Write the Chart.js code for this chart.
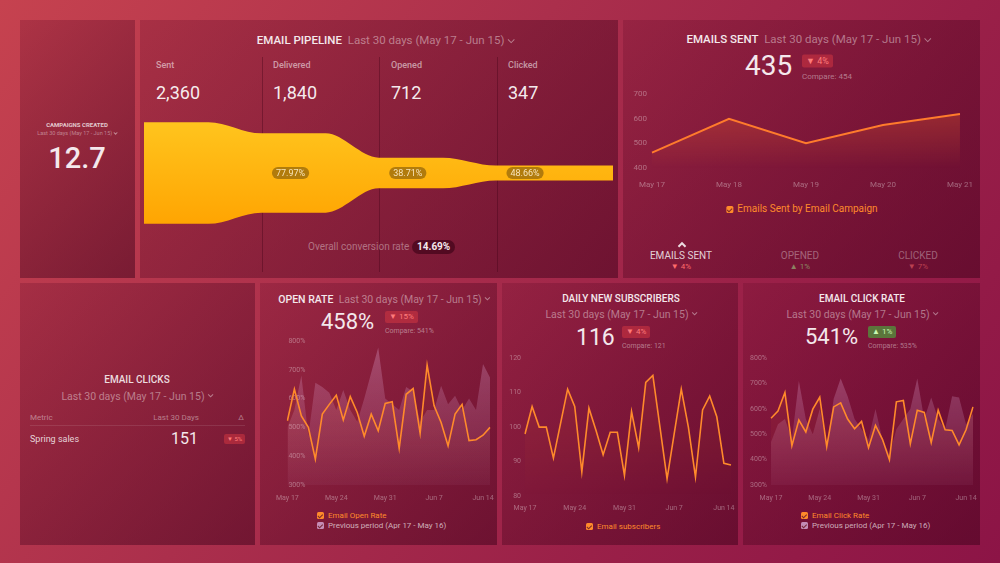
<!DOCTYPE html>
<html>
<head>
<meta charset="utf-8">
<script src="https://cdn.jsdelivr.net/npm/chart.js@4.4.1/dist/chart.umd.min.js"></script>
<style>
  body { margin:0; width:1000px; height:563px; overflow:hidden; position:relative;
    font-family: Roboto, "Noto Sans", sans-serif; color:#f4e8ec;
    background: linear-gradient(125deg, #c6424f 0%, #ab2f4c 40%, #9a2048 70%, #8c1446 100%); }
  .panel { position:absolute; background: linear-gradient(135deg, rgba(100,10,40,0.25), rgba(60,0,25,0.5)); }
  .t { position:absolute; white-space:nowrap; line-height:1; }
  .cc { transform: translate(-50%,-50%); }
  .lc { transform: translateY(-50%); }
  .rc { transform: translate(-100%,-50%); }
  .sub { color: rgba(255,255,255,0.42); }
  .chev { display:inline-block; width:.32em; height:.32em; border-right:.12em solid currentColor; border-bottom:.12em solid currentColor;
    transform: rotate(45deg); margin-left:.35em; position:relative; top:-.22em; }
  .chevup { position:absolute; width:4px; height:4px; border-left:2px solid rgba(255,255,255,.85); border-top:2px solid rgba(255,255,255,.85);
    transform: rotate(45deg); }
  .bred { background: rgba(215,55,65,0.5); color:#ff7b7b; padding:2px 4px; border-radius:2px; }
  .bgreen { background: rgba(80,150,60,0.75); color:#c8f7b0; padding:2px 4px; border-radius:2px; }
  .chk { display:inline-block; position:relative; width:7px; height:7px; border-radius:1.5px; margin-right:4px; vertical-align:-1px; }
  .chk::after { content:""; position:absolute; left:2.4px; top:0.6px; width:1.5px; height:3.6px;
    border-right:1.2px solid rgba(110,30,40,.9); border-bottom:1.2px solid rgba(110,30,40,.9); transform: rotate(45deg); }
  .sep { position:absolute; width:1px; background: rgba(60,0,20,0.35); }
  .cw { position:absolute; }
</style>
</head>
<body>
<div class="panel" style="left:20px;top:20px;width:115px;height:258px"></div>
<div class="panel" style="left:140px;top:20px;width:478px;height:258px"></div>
<div class="panel" style="left:623px;top:20px;width:357px;height:258px"></div>
<div class="panel" style="left:20px;top:283px;width:235px;height:262px"></div>
<div class="panel" style="left:260px;top:283px;width:237px;height:262px"></div>
<div class="panel" style="left:502px;top:283px;width:236px;height:262px"></div>
<div class="panel" style="left:743px;top:283px;width:237px;height:262px"></div>

<!-- campaigns created -->
<div class="t cc" style="left:77px;top:125px;font-size:6px;font-weight:700;color:rgba(255,255,255,.75)">CAMPAIGNS CREATED</div>
<div class="t cc sub" style="left:77px;top:134px;font-size:5.5px">Last 30 days (May 17 - Jun 15)<i class="chev"></i></div>
<div class="t cc" style="left:77px;top:158px;font-size:29px;font-weight:500">12.7</div>

<!-- email pipeline -->
<div class="t cc" style="left:385px;top:41px;font-size:11.5px"><span style="font-weight:500">EMAIL PIPELINE</span> <span class="sub">&nbsp;Last 30 days (May 17 - Jun 15)<i class="chev"></i></span></div>
<div class="sep" style="left:262px;top:57px;height:215px"></div>
<div class="sep" style="left:379px;top:57px;height:215px"></div>
<div class="sep" style="left:497px;top:57px;height:215px"></div>
<div id="stageNames"></div>
<div class="cw" style="left:144px;top:117px;width:469px;height:112px"><canvas id="funnel"></canvas></div>
<div class="t lc" style="left:308px;top:247px;font-size:10px;color:rgba(255,255,255,.38)">Overall conversion rate</div>
<div class="t lc" style="left:412px;top:247px;font-size:10px;font-weight:700;background:rgba(55,0,20,.6);padding:2px 5px;border-radius:7px">14.69%</div>

<!-- emails sent -->
<div class="t cc" style="left:808px;top:40px;font-size:11.5px"><span style="font-weight:500">EMAILS SENT</span> <span class="sub">&nbsp;Last 30 days (May 17 - Jun 15)<i class="chev"></i></span></div>
<div class="t lc" style="left:745px;top:66px;font-size:28px">435</div>
<div class="t lc bred" style="left:802px;top:61px;font-size:9px">▼ 4%</div>
<div class="t lc sub" style="left:802px;top:77px;font-size:8px">Compare: 454</div>
<div class="cw" style="left:625px;top:84px;width:360px;height:110px"><canvas id="sent"></canvas></div>
<div class="t cc" style="left:802px;top:209px;font-size:10px;color:#ff8a2b"><span class="chk" style="background:#ff8a2b"></span>Emails Sent by Email Campaign</div>
<i class="chevup" style="left:679px;top:243px"></i>
<div class="t cc" style="left:681px;top:256px;font-size:10px;color:rgba(255,255,255,.8)">EMAILS SENT</div>
<div class="t cc" style="left:681px;top:267px;font-size:8px;color:#ff6b6b">▼ 4%</div>
<div class="t cc" style="left:800px;top:256px;font-size:10px;color:rgba(255,255,255,.35)">OPENED</div>
<div class="t cc" style="left:800px;top:267px;font-size:8px;color:rgba(160,230,140,.55)">▲ 1%</div>
<div class="t cc" style="left:918px;top:256px;font-size:10px;color:rgba(255,255,255,.35)">CLICKED</div>
<div class="t cc" style="left:918px;top:267px;font-size:8px;color:rgba(255,110,110,.55)">▼ 7%</div>

<!-- email clicks -->
<div class="t cc" style="left:137px;top:380px;font-size:10px;font-weight:500;color:rgba(255,255,255,.85)">EMAIL CLICKS</div>
<div class="t cc sub" style="left:137px;top:397px;font-size:10.5px">Last 30 days (May 17 - Jun 15)<i class="chev"></i></div>
<div class="t lc sub" style="left:30px;top:418px;font-size:8px">Metric</div>
<div class="t rc sub" style="left:199px;top:418px;font-size:8px">Last 30 Days</div>
<div class="t cc sub" style="left:241px;top:418px;font-size:8px">Δ</div>
<div style="position:absolute;left:30px;top:425px;width:215px;height:1px;background:rgba(255,255,255,.1)"></div>
<div class="t lc" style="left:30px;top:439px;font-size:9px;color:rgba(255,255,255,.8)">Spring sales</div>
<div class="t rc" style="left:198px;top:439px;font-size:16px">151</div>
<div class="t lc bred" style="left:224px;top:439px;font-size:6px;padding:2px 3px">▼ 5%</div>

<!-- open rate -->
<div class="t cc" style="left:384px;top:300px;font-size:10.5px"><span style="font-weight:500">OPEN RATE</span> <span class="sub">&nbsp;Last 30 days (May 17 - Jun 15)<i class="chev"></i></span></div>
<div class="t lc" style="left:321px;top:322px;font-size:22px">458%</div>
<div class="t lc bred" style="left:385px;top:317px;font-size:8px">▼ 15%</div>
<div class="t lc sub" style="left:385px;top:331px;font-size:7px">Compare: 541%</div>
<div class="cw" style="left:267px;top:335px;width:233px;height:172px"><canvas id="openRate"></canvas></div>
<div class="t lc" style="left:317px;top:516px;font-size:8px;color:#ff8a2b"><span class="chk" style="background:#ff8a2b"></span>Email Open Rate</div>
<div class="t lc" style="left:317px;top:526px;font-size:8px;color:rgba(255,255,255,.65)"><span class="chk" style="background:rgba(215,170,215,.8)"></span>Previous period (Apr 17 - May 16)</div>

<!-- daily new subscribers -->
<div class="t cc" style="left:621px;top:299px;font-size:10px;font-weight:500">DAILY NEW SUBSCRIBERS</div>
<div class="t cc sub" style="left:621px;top:315px;font-size:10.5px">Last 30 days (May 17 - Jun 15)<i class="chev"></i></div>
<div class="t lc" style="left:576px;top:337px;font-size:23px">116</div>
<div class="t lc bred" style="left:622px;top:332px;font-size:8px">▼ 4%</div>
<div class="t lc sub" style="left:622px;top:346px;font-size:7px">Compare: 121</div>
<div class="cw" style="left:505px;top:350px;width:234px;height:168px"><canvas id="subs"></canvas></div>
<div class="t lc" style="left:586px;top:527px;font-size:8px;color:#ff8a2b"><span class="chk" style="background:#ff8a2b"></span>Email subscribers</div>

<!-- email click rate -->
<div class="t cc" style="left:862px;top:299px;font-size:10px;font-weight:500">EMAIL CLICK RATE</div>
<div class="t cc sub" style="left:862px;top:315px;font-size:10.5px">Last 30 days (May 17 - Jun 15)<i class="chev"></i></div>
<div class="t lc" style="left:805px;top:337px;font-size:22px">541%</div>
<div class="t lc bgreen" style="left:868px;top:332px;font-size:8px">▲ 1%</div>
<div class="t lc sub" style="left:868px;top:346px;font-size:7px">Compare: 535%</div>
<div class="cw" style="left:747px;top:350px;width:235px;height:157px"><canvas id="clickRate"></canvas></div>
<div class="t lc" style="left:801px;top:516px;font-size:8px;color:#ff8a2b"><span class="chk" style="background:#ff8a2b"></span>Email Click Rate</div>
<div class="t lc" style="left:801px;top:526px;font-size:8px;color:rgba(255,255,255,.65)"><span class="chk" style="background:rgba(215,170,215,.8)"></span>Previous period (Apr 17 - May 16)</div>

<script>
// funnel
const funnelStages = ["Sent", "Delivered", "Opened", "Clicked"];
const funnelValues = [2360, 1840, 712, 347];
const funnelRates = ["77.97%", "38.71%", "48.66%"];

// emails sent, last 5 days
const sentDays = ["May 17", "May 18", "May 19", "May 20", "May 21"];
const sentValues = [462, 599, 500, 574, 618];
const sentTicks = [400, 500, 600, 700];

// 30 day series
const days = ["May 17","May 18","May 19","May 20","May 21","May 22","May 23","May 24","May 25","May 26",
  "May 27","May 28","May 29","May 30","May 31","Jun 1","Jun 2","Jun 3","Jun 4","Jun 5",
  "Jun 6","Jun 7","Jun 8","Jun 9","Jun 10","Jun 11","Jun 12","Jun 13","Jun 14","Jun 15"];
const openRate = [523, 633, 540, 500, 390, 546, 580, 612, 526, 607, 552, 469, 546, 488, 583,
  589, 427, 615, 635, 480, 716, 575, 517, 436, 546, 580, 454, 457, 473, 500];
const openRatePrev = [500, 560, 680, 470, 655, 640, 620, 560, 630, 560, 520, 600, 690, 777, 600,
  580, 560, 640, 625, 520, 560, 560, 645, 580, 610, 560, 600, 560, 720, 673];
const subscribers = [98, 106, 100, 100, 91, 101, 111, 106, 87, 105.5, 99, 92, 98.5, 98.5, 86,
  104.5, 94, 113, 115, 100, 85, 98, 111, 100, 85.5, 105, 109, 103, 89.5, 89];
const subTicks = [80, 90, 100, 110, 120];
const clickRate = [563, 592, 665, 455, 556, 509, 599, 646, 451, 608, 624, 560, 522, 551, 447,
  535, 480, 400, 628, 633, 462, 595, 586, 467, 595, 518, 515, 458, 518, 608];
const clickRatePrev = [470, 540, 560, 480, 710, 560, 500, 600, 450, 640, 720, 650, 560, 520, 480,
  600, 480, 420, 520, 560, 600, 720, 560, 645, 560, 520, 650, 645, 540, 580];
const pctTicks = [300, 400, 500, 600, 700, 800];

const ORANGE = "#ff8a2b";
const TICK = "rgba(255,255,255,0.35)";
Chart.defaults.font.family = "Roboto";
Chart.defaults.animation = false;

// stage names + totals
let names = "";
funnelStages.forEach((s, i) => {
    let x = [156, 273, 391, 508][i];
    names += `<div class="t lc" style="left:${x}px;top:65px;font-size:9px;font-weight:500;color:rgba(255,255,255,.55)">${s}</div>
      <div class="t lc" style="left:${x}px;top:93px;font-size:18px;color:rgba(255,255,255,.93)">${funnelValues[i].toLocaleString("en-US")}</div>`;
});
document.getElementById("stageNames").innerHTML = names;

function vGrad(c, top, bottom) {
    const a = c.chart.chartArea;
    if (!a) return "transparent";
    const g = c.chart.ctx.createLinearGradient(0, a.top, 0, a.bottom);
    g.addColorStop(0, top);
    g.addColorStop(1, bottom);
    return g;
}

// funnel chart
const funnelTop = [], funnelBottom = [];
funnelValues.forEach((v, i) => {
    const xs = i < funnelValues.length - 1 ? [i, i + 0.55] : [i, i + 1];
    xs.forEach(x => {
        funnelTop.push({ x: x, y: v / 2 });
        funnelBottom.push({ x: x, y: -v / 2 });
    });
});

const funnelLabels = {
    id: "funnelLabels",
    afterDatasetsDraw(chart) {
        const { ctx, scales: { x, y } } = chart;
        ctx.save();
        ctx.font = "9px Roboto";
        ctx.textAlign = "center";
        ctx.textBaseline = "middle";
        funnelRates.forEach((r, i) => {
            const cx = x.getPixelForValue(i + 1.25), cy = y.getPixelForValue(0);
            const w = ctx.measureText(r).width + 8, h = 12;
            ctx.fillStyle = "rgba(125,85,10,0.6)";
            ctx.beginPath();
            ctx.roundRect(cx - w / 2, cy - h / 2, w, h, 6);
            ctx.fill();
            ctx.fillStyle = "rgba(255,240,205,0.9)";
            ctx.fillText(r, cx, cy + 0.5);
        });
        ctx.restore();
    }
};

new Chart(document.getElementById("funnel"), {
    type: "line",
    data: {
        datasets: [
            { data: funnelTop, borderColor: "transparent", borderWidth: 0, pointRadius: 0, fill: false, cubicInterpolationMode: "monotone" },
            { data: funnelBottom, borderColor: "transparent", borderWidth: 0, pointRadius: 0, fill: "-1", cubicInterpolationMode: "monotone",
              backgroundColor: c => vGrad(c, "#ffc61f", "#ffa300") }
        ]
    },
    options: {
        responsive: true, maintainAspectRatio: false,
        layout: { padding: 0 },
        plugins: { legend: { display: false }, tooltip: { enabled: false } },
        scales: {
            x: { type: "linear", min: 0, max: funnelValues.length, display: false },
            y: { min: -1300, max: 1300, display: false }
        }
    },
    plugins: [funnelLabels]
});

function lineOptions(o) {
    return {
        responsive: true, maintainAspectRatio: false,
        layout: { padding: o.pad },
        plugins: { legend: { display: false }, tooltip: { enabled: false } },
        elements: { point: { radius: 0 }, line: { tension: 0 } },
        scales: {
            x: {
                grid: { display: false, drawTicks: false }, border: { display: false },
                ticks: { color: TICK, font: { size: o.font }, maxRotation: 0, autoSkip: false, padding: o.xPad,
                    callback: function(v, i) { return i % o.every === 0 ? this.getLabelForValue(v) : ""; } },
                afterFit: s => { s.height = o.xH; }
            },
            y: {
                min: o.ticks[0], max: o.ticks[o.ticks.length - 1],
                grid: { display: false, drawTicks: false }, border: { display: false },
                afterBuildTicks: s => { s.ticks = o.ticks.map(v => ({ value: v })); },
                ticks: { color: TICK, font: { size: o.font }, padding: o.yPad, mirror: !!o.mirror,
                    callback: v => v + (o.suffix || "") },
                afterFit: s => { s.width = o.yW; }
            }
        }
    };
}

// emails sent
new Chart(document.getElementById("sent"), {
    type: "line",
    data: {
        labels: sentDays,
        datasets: [{ data: sentValues, borderColor: "#ff7b2c", borderWidth: 2, fill: "start",
            backgroundColor: c => vGrad(c, "rgba(255,110,40,0.35)", "rgba(255,110,40,0)") }]
    },
    options: lineOptions({ pad: { top: 5, right: 14, left: 0, bottom: 0 }, font: 8, xPad: 12, xH: 26, yW: 27, yPad: 5, ticks: sentTicks, every: 1 })
});

function rateChart(id, cur, prev, ticks, o) {
    const datasets = [{ data: cur, borderColor: ORANGE, borderWidth: 1.6, fill: "start",
        backgroundColor: c => vGrad(c, "rgba(255,120,40,0.12)", "rgba(255,120,40,0)") }];
    if (prev) {
        datasets.push({ data: prev, borderColor: "transparent", borderWidth: 0, fill: "start",
            backgroundColor: c => vGrad(c, "rgba(225,170,215,0.32)", "rgba(225,170,215,0.06)") });
    }
    new Chart(document.getElementById(id), {
        type: "line",
        data: { labels: days, datasets: datasets },
        options: lineOptions(Object.assign({ font: 7, every: 7, ticks: ticks }, o))
    });
}

// open rate: y labels sit inside the plot
rateChart("openRate", openRate, openRatePrev, pctTicks,
    { pad: { top: 6, right: 10, left: 0, bottom: 0 }, xPad: 9, xH: 22, yW: 14, yPad: 1, mirror: true, suffix: "%" });
rateChart("subs", subscribers, null, subTicks,
    { pad: { top: 6, right: 8, left: 0, bottom: 0 }, xPad: 8, xH: 22, yW: 20, yPad: 4 });
rateChart("clickRate", clickRate, clickRatePrev, pctTicks,
    { pad: { top: 6, right: 9, left: 0, bottom: 0 }, xPad: 9, xH: 22, yW: 24, yPad: 4, suffix: "%" });
</script>
</body>
</html>
